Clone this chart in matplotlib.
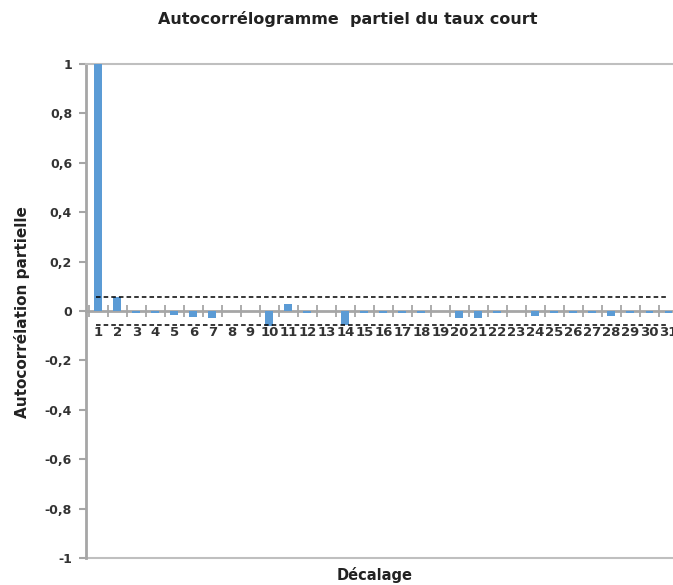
import numpy as np
import matplotlib
matplotlib.use("Agg")
import matplotlib.pyplot as plt

# partial autocorrelation values
lags = list(range(1, 32))
pacf = [1.0, 0.055, -0.008, -0.008, -0.015, -0.024, -0.03, 0.0, 0.0, -0.062,
        0.027, -0.008, 0.0, -0.058, -0.008, -0.01, -0.008, -0.008, 0.0, -0.03,
        -0.03, -0.008, 0.0, -0.02, -0.008, -0.008, -0.008, -0.02, -0.008, -0.008,
        -0.008]
conf = 0.057
yticks = [-1, -0.8, -0.6, -0.4, -0.2, 0, 0.2, 0.4, 0.6, 0.8, 1]
ytick_labels = ["-1", "-0,8", "-0,6", "-0,4", "-0,2", "0", "0,2", "0,4", "0,6", "0,8", "1"]

W, H = 673, 585
fig = plt.figure(figsize=(W / 100, H / 100), dpi=100)
ax = fig.add_axes([86 / W, 1 - 558 / H, 592 / W, (558 - 64) / H])

ax.bar(lags, pacf, width=0.42, color="#5B9BD5", zorder=3)
ax.hlines([conf, -conf], 0.85, 30.9, colors="black", linestyles=(0, (3, 2)),
          linewidth=1.1, zorder=4)

ax.set_xlim(0.35, 31.5)
ax.set_ylim(-1, 1)

# spines
ax.spines["right"].set_visible(False)
ax.spines["top"].set_color("#BFBFBF")
ax.spines["top"].set_linewidth(1.5)
ax.spines["left"].set_color("#A6A6A6")
ax.spines["left"].set_linewidth(2)
ax.spines["bottom"].set_position(("data", 0))
ax.spines["bottom"].set_color("#A6A6A6")
ax.spines["bottom"].set_linewidth(2)
ax.axhline(-1, color="#BFBFBF", linewidth=1.5, clip_on=False)

ax.set_yticks(yticks)
ax.set_yticklabels(ytick_labels, fontsize=9, fontweight="bold", color="#333333")
ax.tick_params(axis="y", direction="out", length=5, width=1.5, color="#A6A6A6", pad=5)

ax.set_xticks(lags)
ax.set_xticklabels([str(l) for l in lags], fontsize=9.5, fontweight="bold", color="#333333")
ax.set_xticks(np.arange(0.5, 32, 1), minor=True)
ax.tick_params(axis="x", which="major", length=0, pad=11)
ax.tick_params(axis="x", which="minor", direction="inout", length=9, width=1.3, color="#A6A6A6")

fig.text(348 / W, 1 - 19 / H, "Autocorrélogramme  partiel du taux court",
         ha="center", va="center", fontsize=11.5, fontweight="bold", color="#222222")
fig.text(22 / W, 1 - 312 / H, "Autocorrélation partielle", rotation=90,
         ha="center", va="center", fontsize=11, fontweight="bold", color="#222222")
fig.text(375 / W, 1 - 575 / H, "Décalage", ha="center", va="center",
         fontsize=10.5, fontweight="bold", color="#222222")

fig.savefig("out.png", dpi=100)
